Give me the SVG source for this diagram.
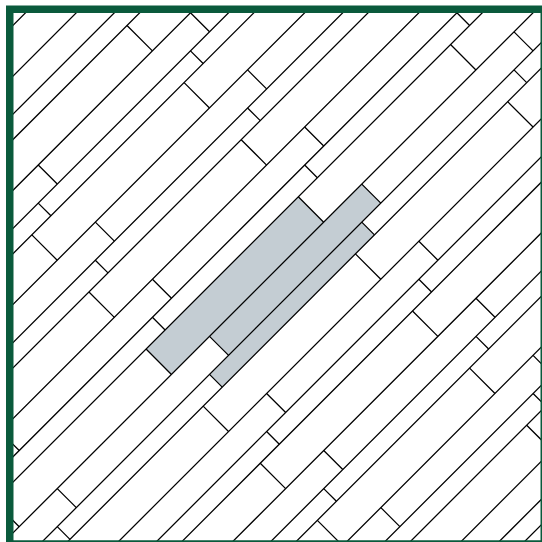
<svg xmlns="http://www.w3.org/2000/svg" width="542" height="542" viewBox="0 0 542 542">
<defs>
<clipPath id="floor"><rect x="10" y="10" width="532" height="532"/></clipPath>
<style>
.edge{stroke:#000;stroke-width:1.8;fill:none}
.hl{fill:#c4cdd3;stroke:none}
.frame{fill:none;stroke:#0a5a3c;stroke-width:7.5}
</style>
</defs>
<rect width="542" height="542" fill="#fff"/>
<g id="floor-planks" clip-path="url(#floor)">
<g transform="matrix(0.5 0.5 -0.5 0.5 0 0)">
<g id="highlight">
<rect class="hl" x="495.1" y="-101.5" width="50.76" height="304.5"/>
<rect class="hl" x="545.86" y="-177.7" width="38.07" height="304.5"/>
<rect class="hl" x="583.93" y="-139.6" width="25.37" height="304.5"/>
</g>
<g id="row-edges">
<path class="edge" d="M38.3 -600V600M89.06 -600V600M127.13 -600V600M152.5 -600V600M203.26 -600V600M241.33 -600V600M266.7 -600V600M317.46 -600V600M355.53 -600V600M380.9 -600V600M431.66 -600V600M469.73 -600V600M495.1 -600V600M545.86 -600V600M583.93 -600V600M609.3 -600V600M660.06 -600V600M698.13 -600V600M723.5 -600V600M774.26 -600V600M812.33 -600V600M837.7 -600V600M888.46 -600V600M926.53 -600V600M951.9 -600V600M1002.66 -600V600M1040.73 -600V600M1066.1 -600V600"/>
</g>
<g id="end-joints">
<path class="edge" d="M152.5 -101.5H203.26M203.26 -177.7H241.33M203.26 126.8H241.33M241.33 -139.6H266.7M241.33 164.9H266.7
M266.7 -101.5H317.46M266.7 203H317.46M317.46 -177.7H355.53M317.46 126.8H355.53M355.53 -139.6H380.9M355.53 164.9H380.9
M380.9 -101.5H431.66M380.9 203H431.66M431.66 -177.7H469.73M431.66 126.8H469.73M431.66 431.3H469.73M469.73 -444.1H495.1M469.73 -139.6H495.1M469.73 164.9H495.1
M495.1 -406H545.86M495.1 -101.5H545.86M495.1 203H545.86M495.1 507.5H545.86M545.86 -482.2H583.93M545.86 -177.7H583.93M545.86 126.8H583.93M545.86 431.3H583.93M583.93 -444.1H609.3M583.93 -139.6H609.3M583.93 164.9H609.3M583.93 469.4H609.3
M609.3 -406H660.06M609.3 -101.5H660.06M609.3 203H660.06M660.06 -177.7H698.13M660.06 126.8H698.13M698.13 -139.6H723.5M698.13 164.9H723.5
M723.5 -101.5H774.26M723.5 203H774.26M774.26 -177.7H812.33M774.26 126.8H812.33M812.33 -139.6H837.7M812.33 164.9H837.7
M837.7 -101.5H888.46M837.7 203H888.46M888.46 -177.7H926.53M888.46 126.8H926.53M926.53 -139.6H951.9
M951.9 -101.5H1002.66"/>
</g>
</g>
</g>
<rect id="frame" class="frame" x="9.75" y="9.25" width="534.5" height="534.75"/>
</svg>
